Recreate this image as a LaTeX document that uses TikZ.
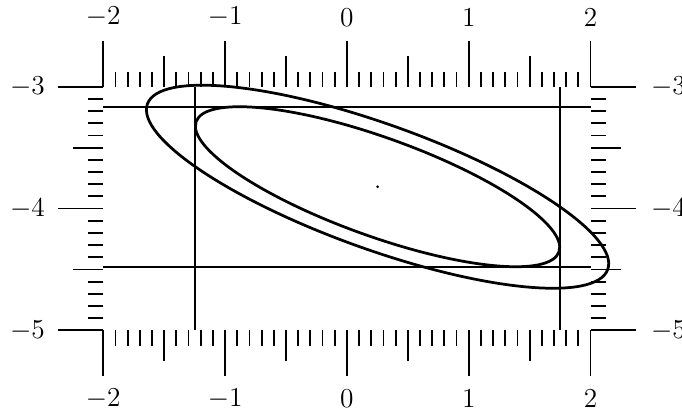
\documentclass[tikz,border=0pt]{standalone}
\usepackage{amsmath,amssymb}
\usepackage{tikz}
\usetikzlibrary{positioning}

\begin{document}
\begin{tikzpicture}[
    x=1.877cm, y=1.877cm,
    tick/.style={line width=0.8pt},
    guide/.style={line width=0.8pt},
    conf/.style={line width=1.2pt},
    lbl/.style={inner sep=0pt, font=\fontsize{12}{14}\selectfont},
  ]
    \useasboundingbox (-2.848,-5.687) rectangle (2.751,-2.288);
    \coordinate (mean) at (0.2516,-3.821);

    % ticks on all four sides
    \foreach \i in {0,...,40} {
      \pgfmathsetmacro{\tx}{-2+\i/10}
      \pgfmathsetmacro{\tl}{ifthenelse(mod(\i,10)==0,0.375,ifthenelse(mod(\i,5)==0,0.25,0.125))}
      \draw[tick] (\tx,-3) -- ++(0,\tl);
      \draw[tick] (\tx,-5) -- ++(0,-\tl);
    }
    \foreach \i in {0,...,20} {
      \pgfmathsetmacro{\ty}{-3-\i/10}
      \pgfmathsetmacro{\tl}{ifthenelse(mod(\i,10)==0,0.375,ifthenelse(mod(\i,5)==0,0.25,0.125))}
      \draw[tick] (-2,\ty) -- ++(-\tl,0);
      \draw[tick] (2,\ty) -- ++(\tl,0);
    }

    % labels
    \foreach \v [count=\n] in {-2,...,2} {
      \node[lbl] (xtop\n) at (\v,-2.43) {$\v$};
      \node[lbl] (xbot\n) at (\v,-5.56) {$\v$};
    }
    \foreach \v [count=\n] in {-3,-4,-5} {
      \node[lbl] (yleft\n) at (-2.622,\v) {$\v$};
      \node[lbl] (yright\n) at (2.640,\v) {$\v$};
    }

    % bounding lines of the inner ellipse
    \draw[guide] (-2,-3.1642) -- (2,-3.1642);
    \draw[guide] (-2,-4.4778) -- (2,-4.4778);
    \draw[guide] (-1.2439,-3) -- (-1.2439,-5);
    \draw[guide] (1.7471,-3) -- (1.7471,-5);

    % ellipses
    \draw[conf, rotate around={-19.77:(mean)}] (mean) ellipse [x radius=1.5825, y radius=0.4046];
    \draw[conf, rotate around={-19.77:(mean)}] (mean) ellipse [x radius=2.008, y radius=0.5134];
    \fill (mean) circle (0.012);
  \end{tikzpicture}
\end{document}
